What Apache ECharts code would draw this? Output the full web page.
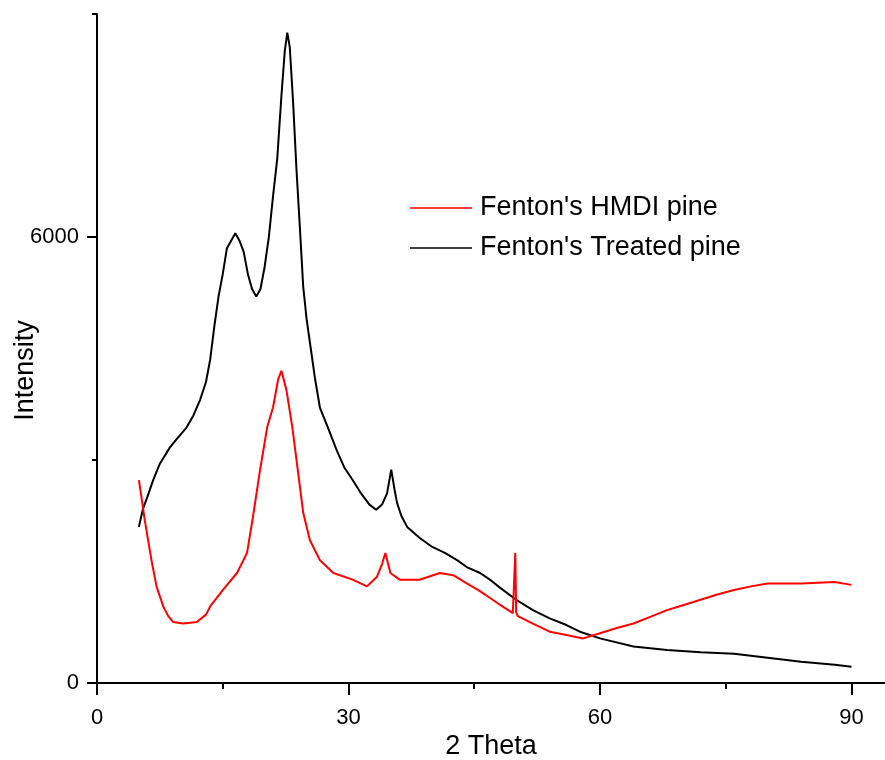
<!DOCTYPE html>
<html>
<head>
<meta charset="utf-8">
<script src="https://cdn.jsdelivr.net/npm/echarts@6/dist/echarts.min.js"></script>
<style>
html,body{margin:0;padding:0;background:#fff;}
#chart{width:885px;height:760px;}
</style>
</head>
<body>
<div id="chart"></div>
<script>
var seriesNames = ["Fenton's HMDI pine", "Fenton's Treated pine"];

var treatedX = [5, 5.5, 6, 6.7, 7.5, 8.7, 9.5, 10.7, 11.5, 12.3, 13, 13.5, 14, 14.5, 15, 15.5, 16, 16.5, 17, 17.5, 18, 18.5, 19, 19.5, 20, 20.5, 21, 21.5, 22, 22.4, 22.7, 23, 23.4, 23.8, 24.2, 24.6, 25, 25.5, 26, 26.6, 27.5, 28.6, 29.5, 30.5, 31.5, 32.5, 33.3, 34, 34.6, 35.1, 35.5, 35.8, 36.3, 37, 38.5, 40, 41.5, 43, 44.1, 45.7, 47, 48.1, 50, 52, 54, 56, 57.6, 60, 64, 68, 72, 76, 80, 84, 88, 90];
var treatedY = [2100, 2350, 2500, 2730, 2950, 3170, 3280, 3440, 3600, 3810, 4050, 4350, 4800, 5200, 5500, 5850, 5950, 6050, 5950, 5800, 5500, 5300, 5200, 5300, 5600, 6000, 6550, 7050, 7900, 8500, 8750, 8550, 7800, 6900, 6130, 5330, 4900, 4500, 4100, 3700, 3450, 3130, 2900, 2730, 2550, 2400, 2330, 2400, 2550, 2870, 2600, 2420, 2250, 2100, 1950, 1830, 1750, 1650, 1560, 1480, 1380, 1280, 1120, 980, 870, 780, 690, 600, 490, 445, 415, 395, 340, 285, 245, 220];

var hmdiX = [5, 5.3, 5.7, 6.1, 6.5, 7.1, 7.9, 8.5, 9.1, 10.3, 11.9, 13, 13.5, 15, 16.7, 17.9, 18.6, 19.4, 20.3, 21, 21.6, 22, 22.6, 23.3, 23.9, 24.6, 25.4, 26.6, 28.2, 30.5, 32.2, 33.4, 34, 34.4, 35, 36.1, 38.5, 40.9, 42.5, 44.1, 45.5, 47.2, 48.1, 49.6, 49.8, 49.9, 50.0, 50.2, 52, 54, 56, 58, 60, 62, 64, 66, 68, 70, 72, 74, 76, 78, 80, 82, 84, 86, 88, 90];
var hmdiY = [2730, 2500, 2190, 1920, 1650, 1300, 1030, 900, 820, 800, 820, 920, 1030, 1250, 1480, 1750, 2230, 2830, 3440, 3710, 4080, 4200, 3940, 3440, 2910, 2290, 1920, 1650, 1480, 1390, 1300, 1430, 1600, 1750, 1480, 1390, 1390, 1480, 1450, 1340, 1250, 1120, 1050, 940, 950, 1750, 950, 900, 800, 690, 645, 600, 670, 740, 800, 890, 980, 1050, 1120, 1190, 1250, 1300, 1340, 1340, 1340, 1350, 1360, 1320];

var xMajorTicks = [0, 30, 60, 90];
var xMinorTicks = [15, 45, 75];
var yMajorTicks = [0, 6000];
var yMinorTicks = [3000, 9000];
var xRange = [0, 94];
var yRange = [0, 9000];
var xTitle = '2 Theta';
var yTitle = 'Intensity';

function pairs(xs, ys) { return xs.map(function (x, i) { return [x, ys[i]]; }); }

var FONT = '"Liberation Sans", Arial, sans-serif';
var chart = echarts.init(document.getElementById('chart'), null, { renderer: 'canvas' });

var axisLineStyle = { color: '#000', width: 2 };
var plain = function (v) { return String(v); };

chart.setOption({
  animation: false,
  backgroundColor: '#fff',
  grid: { left: 97, right: 0, top: 14, bottom: 77, containLabel: false, outerBoundsMode: 'none' },
  legend: {
    data: seriesNames,
    orient: 'vertical',
    left: 405,
    top: 188,
    icon: 'rect',
    itemWidth: 62,
    itemHeight: 1.5,
    itemGap: 10,
    textStyle: { fontSize: 27, lineHeight: 30, fontFamily: FONT, color: '#000', padding: [0, 0, 0, 3] }
  },
  xAxis: [
    {
      type: 'value', min: xRange[0], max: xRange[1],
      name: xTitle, nameLocation: 'middle', nameGap: 50, nameMoveOverlap: false,
      nameTextStyle: { fontSize: 27, fontFamily: FONT, color: '#000' },
      axisLine: { show: true, onZero: false, lineStyle: axisLineStyle },
      axisTick: { show: true, inside: false, length: 12, lineStyle: axisLineStyle, customValues: xMajorTicks },
      axisLabel: { show: true, fontSize: 22, fontFamily: FONT, color: '#000', margin: 24, customValues: xMajorTicks, formatter: plain },
      splitLine: { show: false }
    },
    {
      type: 'value', min: xRange[0], max: xRange[1], position: 'bottom',
      axisLine: { show: false },
      axisTick: { show: true, inside: false, length: 6, lineStyle: axisLineStyle, customValues: xMinorTicks },
      axisLabel: { show: false },
      splitLine: { show: false }
    }
  ],
  yAxis: [
    {
      type: 'value', min: yRange[0], max: yRange[1],
      name: yTitle, nameLocation: 'middle', nameGap: 58, nameMoveOverlap: false,
      nameTextStyle: { fontSize: 27, fontFamily: FONT, color: '#000', padding: [0, 44, 0, 0] },
      axisLine: { show: true, onZero: false, lineStyle: axisLineStyle },
      axisTick: { show: true, inside: false, length: 10, lineStyle: axisLineStyle, customValues: yMajorTicks },
      axisLabel: { show: true, fontSize: 22, fontFamily: FONT, color: '#000', margin: 18, customValues: yMajorTicks, formatter: plain },
      splitLine: { show: false }
    },
    {
      type: 'value', min: yRange[0], max: yRange[1], position: 'left',
      axisLine: { show: false },
      axisTick: { show: true, inside: false, length: 5, lineStyle: axisLineStyle, customValues: yMinorTicks },
      axisLabel: { show: false },
      splitLine: { show: false }
    }
  ],
  series: [
    {
      name: seriesNames[0], type: 'line', xAxisIndex: 0, yAxisIndex: 0,
      data: pairs(hmdiX, hmdiY), showSymbol: false, symbol: 'none',
      lineStyle: { color: '#ff0000', width: 2 }, itemStyle: { color: '#ff0000' }, z: 3
    },
    {
      name: seriesNames[1], type: 'line', xAxisIndex: 0, yAxisIndex: 0,
      data: pairs(treatedX, treatedY), showSymbol: false, symbol: 'none',
      lineStyle: { color: '#000000', width: 2 }, itemStyle: { color: '#000000' }, z: 2
    }
  ]
});
</script>
</body>
</html>
